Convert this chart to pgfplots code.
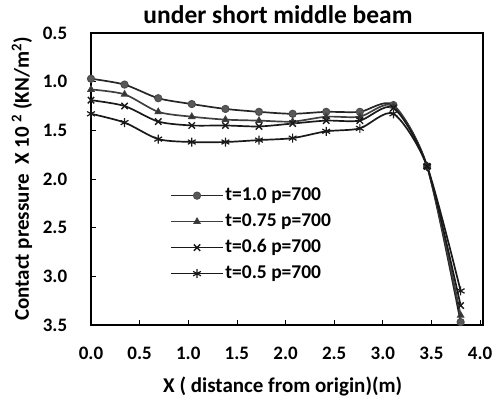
\documentclass[border=0pt]{standalone}
\usepackage{pgfplots}
\pgfplotsset{compat=1.18}
\usepackage{fontspec}
\setmainfont{Carlito}
\begin{document}
\begin{tikzpicture}[x=1bp,y=1bp]
\path[use as bounding box] (0,0) rectangle (492,399);
\begin{axis}[
  at={(91bp,74bp)}, anchor=south west,
  scale only axis, width=392bp, height=292bp,
  xmin=0, xmax=4.03, ymin=0.5, ymax=3.5, y dir=reverse,
  xtick={0,0.5,...,4.0}, ytick={0.5,1.0,...,3.5},
  xtick pos=left, ytick pos=left, tick align=inside,
  major tick length=5bp,
  axis line style={line width=1.2pt},
  every tick/.style={black, line width=0.8pt},
  font=\fontsize{19bp}{23bp}\selectfont\bfseries,
  /pgf/number format/assume math mode=true,
  /pgf/number format/.cd, fixed, fixed zerofill, precision=1, /pgfplots/.cd,
  xticklabel style={anchor=center, yshift=-28bp},
  yticklabel style={anchor=center, xshift=-36bp},
  title={under short middle beam},
  title style={at={(axis description cs:0.477,1.043)}, anchor=center, font=\fontsize{25.5bp}{29bp}\selectfont\bfseries},
  xlabel={X ( distance from origin)(m)},
  every axis x label/.style={at={(axis description cs:0.489,-0.212)}, anchor=center, font=\fontsize{21bp}{25bp}\selectfont\bfseries},
  ylabel={Contact pressure\ \ X 10 \textsuperscript{2} (KN/m\textsuperscript{2})},
  every axis y label/.style={at={(axis description cs:-0.176,0.5)}, anchor=center, rotate=90, font=\fontsize{21bp}{25bp}\selectfont\bfseries},
  legend style={at={(axis description cs:0.2015,0.478)}, anchor=north west, draw=none, fill=none,
    inner sep=0pt, row sep=6bp, nodes={inner sep=1.5bp, text height=13bp, text depth=4bp},
    font=\fontsize{19.5bp}{23bp}\selectfont\bfseries},
  legend cell align=left,
  legend image code/.code={\draw[mark repeat=2,mark phase=2] plot coordinates {(0bp,0bp) (26bp,0bp) (52bp,0bp)};},
  every axis plot/.append style={line width=1.7pt, smooth, tension=0.45},
]
\addplot[black!85, mark=*, mark size=3.6bp, mark options={fill=black!65, draw=black!70, line width=1pt}] coordinates {
(0,0.97) (0.345,1.03) (0.691,1.17) (1.036,1.23) (1.382,1.28) (1.727,1.31) (2.073,1.33) (2.418,1.31) (2.764,1.31) (3.109,1.24) (3.455,1.87) (3.8,3.47)};
\addlegendentry{t=1.0 p=700}
\addplot[black!75, mark=triangle*, mark size=3.6bp, mark options={fill=black!80, line width=1pt}] coordinates {
(0,1.08) (0.345,1.13) (0.691,1.31) (1.036,1.36) (1.382,1.39) (1.727,1.40) (2.073,1.41) (2.418,1.36) (2.764,1.36) (3.109,1.25) (3.455,1.87) (3.8,3.40)};
\addlegendentry{t=0.75 p=700}
\addplot[black!90, mark=x, mark size=4.5bp, mark options={line width=1.4pt}] coordinates {
(0,1.19) (0.345,1.25) (0.691,1.41) (1.036,1.45) (1.382,1.45) (1.727,1.46) (2.073,1.43) (2.418,1.40) (2.764,1.40) (3.109,1.27) (3.455,1.87) (3.8,3.30)};
\addlegendentry{t=0.6 p=700}
\addplot[black!90, mark=asterisk, mark size=4.5bp, mark options={line width=1.2pt}] coordinates {
(0,1.33) (0.345,1.42) (0.691,1.59) (1.036,1.62) (1.382,1.62) (1.727,1.60) (2.073,1.58) (2.418,1.51) (2.764,1.48) (3.109,1.33) (3.455,1.87) (3.8,3.15)};
\addlegendentry{t=0.5 p=700}
\end{axis}
\end{tikzpicture}
\end{document}
